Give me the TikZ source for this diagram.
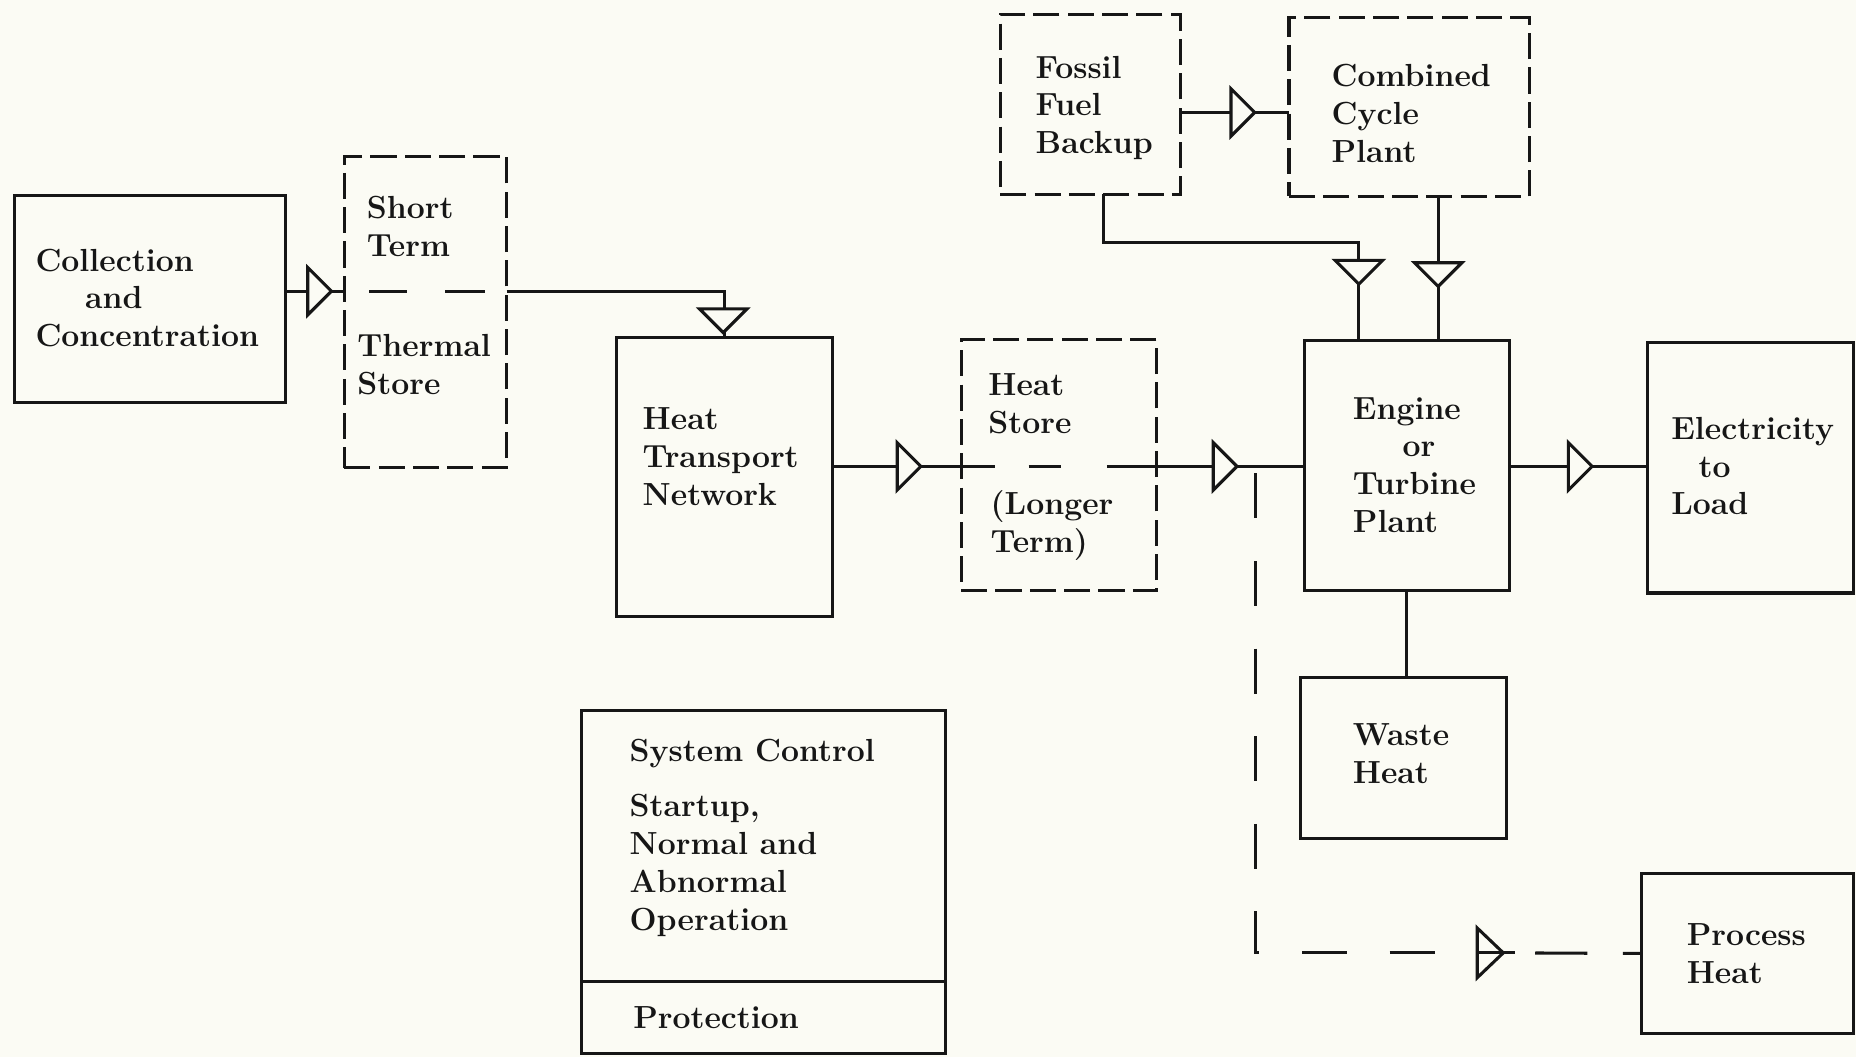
\documentclass[tikz,border=0pt]{standalone}
\usetikzlibrary{calc}
\definecolor{bgc}{RGB}{251,251,244}
\definecolor{ink}{RGB}{22,22,22}
\begin{document}
\begin{tikzpicture}[x=1pt,y=-1pt,
  every node/.style={inner sep=0pt, outer sep=0pt},
  sbox/.style={draw=ink, line width=2.6pt, anchor=north west},
  dbox/.style={sbox, dash pattern=on 22pt off 7pt},
  conn/.style={draw=ink, line width=2.6pt},
  lng/.style={conn, dash pattern=on 38pt off 36pt},
  txt/.style={anchor=base west, align=left, font=\fontsize{27}{32}\selectfont\bfseries, text=ink},
  trR/.pic={\draw[conn, fill=bgc] (-20,-20) -- (0,0) -- (-20,20) -- cycle;},
  trD/.pic={\draw[conn, fill=bgc] (-20,-20) -- (0,0) -- (20,-20) -- cycle;},
  trO/.pic={\draw[conn] (-22,-21) -- (0,0) -- (-22,21) -- cycle;},
]
\fill[bgc] (0,0) rectangle (1568,893);
\useasboundingbox (0,0) rectangle (1568,893);

% boxes
\node[sbox, minimum width=229pt, minimum height=175pt] (coll) at (12,165) {};
\node[dbox, minimum width=137pt, minimum height=263pt] (st) at (291,132) {};
\node[sbox, minimum width=182pt, minimum height=236pt] (ht) at (521,285) {};
\node[dbox, minimum width=165pt, minimum height=212pt] (hs) at (812,287) {};
\node[sbox, minimum width=173pt, minimum height=211pt] (eng) at (1102,288) {};
\node[sbox, minimum width=174pt, minimum height=212pt] (el) at (1392,289) {};
\node[dbox, minimum width=152pt, minimum height=152pt] (ff) at (845,12) {};
\node[dbox, minimum width=203pt, minimum height=151pt] (cc) at (1089,15) {};
\node[sbox, minimum width=174pt, minimum height=136pt] (wh) at (1099,572) {};
\node[sbox, minimum width=179pt, minimum height=135pt] (pr) at (1387,738) {};
\node[sbox, minimum width=308pt, minimum height=290pt] (sc) at (491,600) {};

% texts (anchor = baseline of last line)
\node[txt] (collT) at (30,293) {Collection\\\hspace*{42pt}and\\Concentration};
\node[txt] (stT1) at (310,217) {Short\\Term};
\node[txt] (stT2) at (302,333) {Thermal\\Store};
\node[txt] (htT) at (543,427) {Heat\\Transport\\Network};
\node[txt] (hsT1) at (835,366) {Heat\\Store};
\node[txt] (hsT2) at (837,467) {(Longer\\Term)};
\node[txt] (engT) at (1143,450) {Engine\\\hspace*{42pt}or\\Turbine\\Plant};
\node[txt] (elT) at (1412,435) {Electricity\\\hspace*{23pt}to\\Load};
\node[txt] (ffT) at (875,130) {Fossil\\Fuel\\Backup};
\node[txt] (ccT) at (1125,137) {Combined\\Cycle\\Plant};
\node[txt] (whT) at (1143,662) {Waste\\Heat};
\node[txt] (prT) at (1425,831) {Process\\Heat};
\node[txt] (scT) at (532,643) {System Control};
\node[txt] (scT2) at (532,786) {Startup,\\Normal and\\Abnormal\\Operation};
\node[txt] (scT3) at (535,869) {Protection};

% system control divider
\coordinate (scd) at (0,829);
\draw[conn] (sc.west |- scd) -- (sc.east |- scd);

% flow levels
\coordinate (y1) at (0,246);
\coordinate (y2) at (0,394);
\coordinate (y0) at (0,95);

% collection -> short term
\draw[conn] (coll.east |- y1) -- (st.west |- y1);
\pic at (280,246) {trR};
\draw[conn] (312,246) -- (344,246) (376,246) -- (410,246);
% short term -> heat transport
\draw[conn] (st.east |- y1) -| (ht.north);
\pic at (611,281) {trD};
% heat transport -> heat store
\draw[conn] (ht.east |- y2) -- (hs.west |- y2);
\pic at (778,394) {trR};
\draw[conn] (hs.west |- y2) -- (841,394) (869,394) -- (896,394) (935,394) -- (hs.east |- y2);
% heat store -> engine
\draw[conn] (hs.east |- y2) -- (eng.west |- y2);
\pic at (1045,394) {trR};
% engine -> electricity
\draw[conn] (eng.east |- y2) -- (el.west |- y2);
\pic at (1345,394) {trR};
% fossil -> combined
\draw[conn] (ff.east |- y0) -- (cc.west |- y0);
\pic at (1060,95) {trR};
% fossil -> engine
\coordinate (fx) at (932,0);
\coordinate (fy) at (0,205);
\coordinate (ex1) at (1148,0);
\draw[conn] (ff.south -| fx) -- (fx |- fy) -- (ex1 |- fy) -- (ex1 |- eng.north);
\pic at (1148,240) {trD};
% combined -> engine
\coordinate (ex2) at (1215,0);
\draw[conn] (cc.south -| ex2) -- (ex2 |- eng.north);
\pic at (1215,242) {trD};
% engine -> waste heat
\draw[conn] (eng.south) -- (eng.south |- wh.north);
% process heat tap
\coordinate (tap) at (1061,394);
\coordinate (tb) at (1061,805);
\draw[lng] (tap) ++(0,6) -- (tb) -- (1248,805);
\pic at (1270,805) {trO};
\draw[conn] (1248,805) -- (1280,805);
\draw[conn, dash pattern=on 0pt off 27pt on 44pt off 30pt on 40pt] (1270,805) -- (pr.west);
\end{tikzpicture}
\end{document}
